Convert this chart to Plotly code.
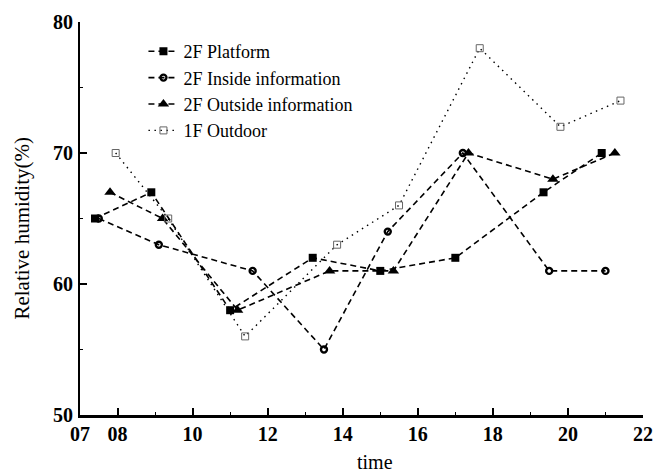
import plotly.graph_objects as go

# ---- data ----
platform_x = [7.4, 8.9, 11.0, 13.2, 15.0, 17.0, 19.35, 20.9]
platform_y = [65, 67, 58, 62, 61, 62, 67, 70]

inside_x = [7.5, 9.1, 11.6, 13.5, 15.2, 17.2, 19.5, 21.0]
inside_y = [65, 63, 61, 55, 64, 70, 61, 61]

outside_x = [7.8, 9.2, 11.2, 13.65, 15.35, 17.35, 19.6, 21.25]
outside_y = [67, 65, 58, 61, 61, 70, 68, 70]

outdoor_x = [7.95, 9.35, 11.4, 13.85, 15.5, 17.65, 19.8, 21.4]
outdoor_y = [70, 65, 56, 63, 66, 78, 72, 74]

x_tickvals = [7, 8, 10, 12, 14, 16, 18, 20, 22]
x_ticktext = ["07", "08", "10", "12", "14", "16", "18", "20", "22"]
y_tickvals = [50, 60, 70, 80]

FONT = "Liberation Serif, Times New Roman, serif"

fig = go.Figure()
fig.add_trace(go.Scatter(
    x=platform_x, y=platform_y, name="2F Platform", mode="lines+markers",
    line=dict(color="black", width=1.6, dash="6px,4px"),
    marker=dict(symbol="square", size=8, color="black")))
fig.add_trace(go.Scatter(
    x=inside_x, y=inside_y, name="2F Inside information", mode="lines+markers",
    line=dict(color="black", width=1.6, dash="6px,4px"),
    marker=dict(symbol="circle-open", size=6, color="black", line=dict(width=2.4, color="black"))))
fig.add_trace(go.Scatter(
    x=outside_x, y=outside_y, name="2F Outside information", mode="lines+markers",
    line=dict(color="black", width=1.6, dash="6px,4px"),
    marker=dict(symbol="triangle-up", size=10, color="black")))
fig.add_trace(go.Scatter(
    x=outdoor_x, y=outdoor_y, name="1F Outdoor", mode="lines+markers",
    line=dict(color="black", width=1.4, dash="1.5px,4.5px"),
    marker=dict(symbol="square-open", size=7, color="#666666", line=dict(width=1, color="#666666"))))

fig.update_layout(
    width=654, height=472,
    margin=dict(l=79.5, r=11, t=22, b=57),
    paper_bgcolor="white", plot_bgcolor="white",
    font=dict(family=FONT, color="black", size=19),
    showlegend=True,
    legend=dict(
        x=(143 - 79.5) / 563.5, y=1 - (33 - 22) / 393.0, xanchor="left", yanchor="top",
        bgcolor="rgba(0,0,0,0)", borderwidth=0,
        font=dict(family=FONT, size=18, color="black"),
        tracegroupgap=0, itemwidth=30,
    ),
    xaxis=dict(
        range=[7, 22], showgrid=False, zeroline=False, automargin=False,
        showline=True, linecolor="black", linewidth=2.5,
        ticks="inside", ticklen=7, tickwidth=1.5, tickcolor="black",
        tickvals=x_tickvals, ticktext=x_ticktext,
        tickfont=dict(family=FONT, size=20, color="black", weight="bold"),
        minor=dict(tickvals=[9, 11, 13, 15, 17, 19, 21], ticks="inside", ticklen=3, tickwidth=1, tickcolor="black"),
        ticklabelstandoff=-1,
    ),
    yaxis=dict(
        range=[50, 80], showgrid=False, zeroline=False, automargin=False,
        showline=True, linecolor="black", linewidth=2,
        ticks="inside", ticklen=7, tickwidth=1.5, tickcolor="black",
        tickvals=y_tickvals,
        tickfont=dict(family=FONT, size=20, color="black", weight="bold"),
        minor=dict(tickvals=[55, 65, 75], ticks="inside", ticklen=3, tickwidth=1, tickcolor="black"),
        ticklabelstandoff=1,
    ),
    annotations=[
        dict(text="time", xref="paper", yref="paper", x=(375 - 79.5) / 563.5, y=-(462 - 415) / 393.0,
             xanchor="center", yanchor="middle", showarrow=False,
             font=dict(family=FONT, size=20, color="black")),
        dict(text="Relative humidity(%)", xref="paper", yref="paper", x=(21 - 79.5) / 563.5,
             y=(415 - 228) / 393.0, xanchor="center", yanchor="middle", textangle=-90,
             showarrow=False, font=dict(family=FONT, size=21, color="black")),
    ],
)

fig.write_html("out.html")
